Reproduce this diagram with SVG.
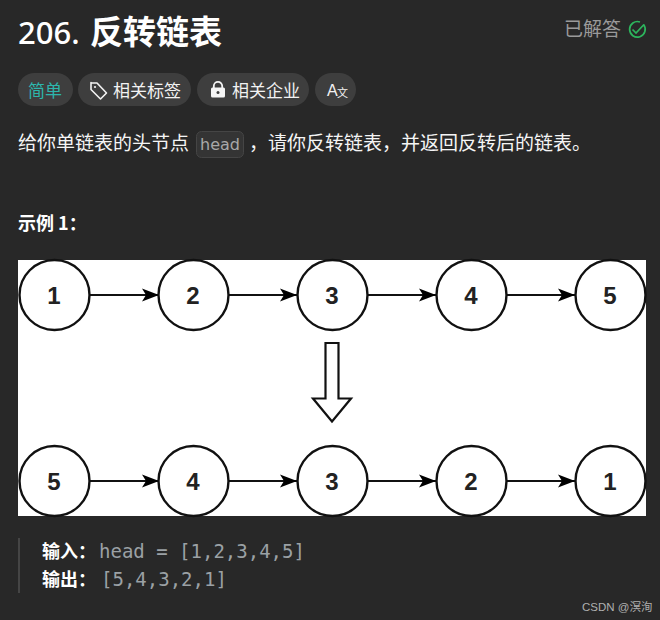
<svg xmlns="http://www.w3.org/2000/svg" width="660" height="620" viewBox="0 0 660 620">
<defs>
<marker id="ah" markerUnits="userSpaceOnUse" markerWidth="18" markerHeight="14" refX="17" refY="7" orient="auto"><path d="M0 0.5L17 7L0 13.5L4 7Z" fill="#000"/></marker>
</defs>
<style>
text{font-family:"Noto Sans CJK SC","Liberation Sans",sans-serif}
.pill{fill:#3e3e3e}
.tag{font-size:17px;fill:#f2f2f2}
.body{font-size:19px;fill:#f5f5f5}
.mono{font-family:"DejaVu Sans Mono","Liberation Mono",monospace;font-size:19px;fill:#9ba1a5}
.b{font-size:18px;font-weight:700;fill:#fff}
.n circle{fill:#fff;stroke:#111;stroke-width:2.4}
.n text{font-family:"Liberation Sans",Arial,sans-serif;font-size:24px;font-weight:700;fill:#222;text-anchor:middle}
.c line{stroke:#111;stroke-width:2;marker-end:url(#ah)}
</style>
<rect width="660" height="620" fill="#282828"/>
<text x="18" y="44" font-size="31" font-weight="500" fill="#fff" style="font-family:'Noto Sans','Liberation Sans',sans-serif">206.</text>
<text x="90" y="44" font-size="33" font-weight="700" fill="#fff">反转链表</text>
<text x="564" y="36" font-size="19" fill="#9a9a9a">已解答</text>
<g fill="none" stroke="#2db55d" stroke-width="1.7"><path d="M643.500 24.500A7.800 7.800 0 1 1 640 22"/><path d="M632.500 29.500L636 33L644 24.500"/></g>
<rect class="pill" x="18" y="73" width="55" height="33" rx="16.500"/>
<text x="28" y="97" font-size="17" fill="#2db6ad">简单</text>
<rect class="pill" x="78" y="73" width="113" height="33" rx="16.500"/>
<path d="M91 82.500V89.500L100.500 99L106.500 93L97 83H91Z" fill="none" stroke="#f2f2f2" stroke-width="1.600" stroke-linejoin="round"/>
<circle cx="95" cy="87" r="1.100" fill="#f2f2f2"/>
<text class="tag" x="113" y="97">相关标签</text>
<rect class="pill" x="197" y="73" width="112" height="33" rx="16.500"/>
<rect x="211" y="87.500" width="14" height="10" rx="1.500" fill="#f5f5f5"/>
<path d="M213.800 88V86A4.200 4.200 0 0 1 222.200 86V88" fill="none" stroke="#f5f5f5" stroke-width="1.800"/>
<circle cx="218" cy="92.500" r="1.500" fill="#3e3e3e"/>
<text class="tag" x="232" y="97">相关企业</text>
<rect class="pill" x="315" y="73" width="41" height="33" rx="16.500"/>
<text x="327" y="96" font-size="16" fill="#f2f2f2" style="font-family:'Liberation Sans',sans-serif">A</text>
<text x="337" y="97" font-size="11" fill="#f2f2f2">文</text>
<text class="body" x="18" y="150">给你单链表的头节点</text>
<rect x="196.500" y="131.500" width="47" height="26" rx="5" fill="#343434" stroke="#454545"/>
<text x="200" y="150" font-size="16" fill="#a8a8a8" style="font-family:'DejaVu Sans','Liberation Sans',sans-serif">head</text>
<text class="body" x="249" y="150">，请你反转链表，并返回反转后的链表。</text>
<text class="b" x="18" y="230">示例 1：</text>
<rect x="18" y="260" width="628" height="256" fill="#fff"/>
<g id="connectors" class="c">
<line x1="90" y1="295" x2="159" y2="295"/><line x1="229" y1="295" x2="297" y2="295"/><line x1="368" y1="295" x2="436" y2="295"/><line x1="507" y1="295" x2="575" y2="295"/>
<line x1="90" y1="481" x2="159" y2="481"/><line x1="229" y1="481" x2="297" y2="481"/><line x1="368" y1="481" x2="436" y2="481"/><line x1="507" y1="481" x2="575" y2="481"/>
</g>
<g id="n1" class="n"><circle cx="54.500" cy="295" r="35"/><text x="54" y="304">1</text></g>
<g id="n2" class="n"><circle cx="193.500" cy="295" r="35"/><text x="193" y="304">2</text></g>
<g id="n3" class="n"><circle cx="332.500" cy="295" r="35"/><text x="332" y="304">3</text></g>
<g id="n4" class="n"><circle cx="471.500" cy="295" r="35"/><text x="471" y="304">4</text></g>
<g id="n5" class="n"><circle cx="610.500" cy="295" r="35"/><text x="610" y="304">5</text></g>
<g id="m5" class="n"><circle cx="54.500" cy="481" r="35"/><text x="54" y="490">5</text></g>
<g id="m4" class="n"><circle cx="193.500" cy="481" r="35"/><text x="193" y="490">4</text></g>
<g id="m3" class="n"><circle cx="332.500" cy="481" r="35"/><text x="332" y="490">3</text></g>
<g id="m2" class="n"><circle cx="471.500" cy="481" r="35"/><text x="471" y="490">2</text></g>
<g id="m1" class="n"><circle cx="610.500" cy="481" r="35"/><text x="610" y="490">1</text></g>
<path id="down-arrow" d="M325.500 343H338.500V398.500H351L332 421.500L313 398.500H325.500Z" fill="#fff" stroke="#111" stroke-width="2.200"/>
<rect x="18" y="538" width="2" height="55" fill="#454545"/>
<text class="b" x="42" y="558">输入：</text>
<text class="mono" x="99" y="558">head = [1,2,3,4,5]</text>
<text class="b" x="42" y="586">输出：</text>
<text class="mono" x="101" y="586">[5,4,3,2,1]</text>
<text x="582" y="611" font-size="11.500" fill="#b0b0b0" style="font-family:'Liberation Sans','Noto Sans CJK SC',sans-serif">CSDN @溟洵</text>
</svg>
